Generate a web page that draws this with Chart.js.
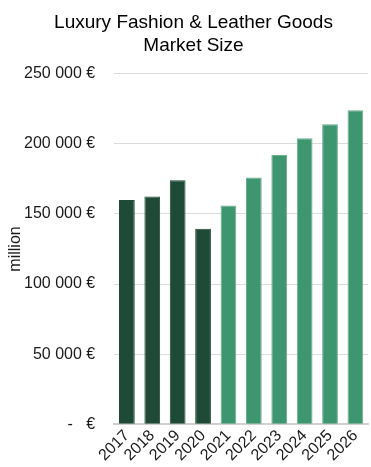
<!DOCTYPE html>
<html lang="en">
<head>
<meta charset="utf-8">
<title>Luxury Fashion &amp; Leather Goods Market Size</title>
<script src="https://cdn.jsdelivr.net/npm/chart.js@4.4.1/dist/chart.umd.min.js"></script>
<style>
  html, body { margin: 0; padding: 0; background: #fff; }
  #wrap { width: 371px; height: 467px; position: relative; }
</style>
</head>
<body>
<div id="wrap">
  <canvas id="marketChart"></canvas>
</div>

<script>
// market size in million EUR, 2017-2020 actual, 2021 onward forecast
var years = ['2017', '2018', '2019', '2020', '2021', '2022', '2023', '2024', '2025', '2026'];
var marketSize = [160000, 162500, 174000, 139500, 156000, 176000, 192000, 204000, 214000, 224000];
var firstForecastYear = '2021';
var yTicks = [0, 50000, 100000, 150000, 200000, 250000];

var darkGreen = '#1f4a37';
var lightGreen = '#3d9670';

var forecastStart = years.indexOf(firstForecastYear);
var barColors = years.map(function (y, i) { return i < forecastStart ? darkGreen : lightGreen; });
var edgeColors = years.map(function (y, i) { return i < forecastStart ? darkGreen : '#6cae8e'; });

function euro(v) {
  if (v === 0) return '-   €';
  return String(v).replace(/\B(?=(\d{3})+(?!\d))/g, ' ') + ' €';
}

Chart.defaults.font.family = "'Liberation Sans', Arial, sans-serif";
Chart.defaults.color = '#1a1a1a';

var ctx = document.getElementById('marketChart').getContext('2d');
var chart = new Chart(ctx, {
  type: 'bar',
  data: {
    labels: years,
    datasets: [{
      label: 'Market size',
      data: marketSize,
      backgroundColor: barColors,
      borderColor: edgeColors,
      borderWidth: 1,
      barPercentage: 0.62,
      categoryPercentage: 1
    }]
  },
  options: {
    responsive: true,
    maintainAspectRatio: false,
    animation: false,
    layout: { padding: { left: 16, right: 0, top: 0, bottom: 0 } },
    plugins: {
      legend: { display: false },
      tooltip: { enabled: false },
      title: {
        display: true,
        text: ['Luxury Fashion & Leather Goods', 'Market Size'],
        color: '#000',
        font: { size: 19, weight: 'normal', lineHeight: 1.23 },
        padding: { top: 11, bottom: 16 }
      }
    },
    scales: {
      x: {
        grid: { display: false, drawTicks: false },
        border: { display: true, color: '#d0d0d0', width: 2 },
        ticks: {
          font: { size: 16 },
          maxRotation: 45,
          minRotation: 45,
          padding: 2,
          autoSkip: false
        }
      },
      y: {
        min: 0,
        max: 250000,
        afterBuildTicks: function (axis) {
          axis.ticks = yTicks.map(function (v) { return { value: v }; });
        },
        grid: { color: '#dcdcdc', lineWidth: 1, drawTicks: false },
        border: { display: false },
        ticks: {
          font: { size: 16 },
          padding: 19,
          callback: function (v) { return euro(v); }
        },
        title: {
          display: true,
          text: 'million',
          font: { size: 16 },
          padding: { top: -9.6, bottom: -20.6 }
        }
      }
    }
  }
});
</script>
</body>
</html>
